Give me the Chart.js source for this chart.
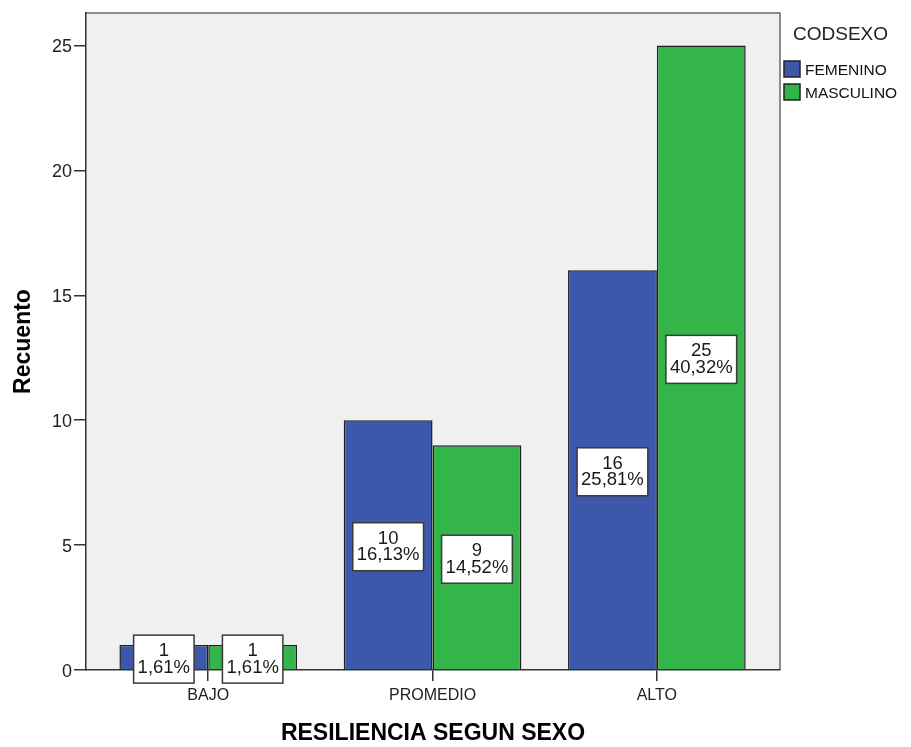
<!DOCTYPE html>
<html>
<head>
<meta charset="utf-8">
<script src="https://cdn.jsdelivr.net/npm/chart.js@4.4.0/dist/chart.umd.min.js"></script>
<style>
  html, body { margin: 0; padding: 0; background: #ffffff; }
  #wrap { width: 911px; height: 747px; }
</style>
</head>
<body>
<div id="wrap"><canvas id="c" width="911" height="747"></canvas></div>
<script>
// Counts of resilience level by sex
const categories = ['BAJO', 'PROMEDIO', 'ALTO'];
const femenino = [1, 10, 16];
const masculino = [1, 9, 25];
const seriesNames = ['FEMENINO', 'MASCULINO'];
const seriesColors = ['#3d58aa', '#33b54a'];
const legendTitle = 'CODSEXO';
const xTitle = 'RESILIENCIA SEGUN SEXO';
const yTitle = 'Recuento';

const FONT = "'Liberation Sans', Arial, sans-serif";
const total = femenino.concat(masculino).reduce((a, b) => a + b, 0);

function pctText(v) {
  return (v / total * 100).toFixed(2).replace('.', ',') + '%';
}

// Grey plot background and frame
const plotFrame = {
  id: 'plotFrame',
  beforeDraw(chart) {
    const { ctx, chartArea: a } = chart;
    ctx.save();
    ctx.fillStyle = '#f0f0f0';
    ctx.fillRect(a.left, a.top, a.right - a.left, a.bottom - a.top);
    ctx.strokeStyle = '#6a6a6a';
    ctx.lineWidth = 1.5;
    ctx.beginPath();
    ctx.moveTo(a.left, a.top);
    ctx.lineTo(a.right, a.top);
    ctx.lineTo(a.right, a.bottom);
    ctx.stroke();
    ctx.restore();
  }
};

// Boxed count / percentage labels centred in each bar
const barLabels = {
  id: 'barLabels',
  afterDatasetsDraw(chart) {
    const { ctx } = chart;
    ctx.save();
    ctx.font = '18.5px ' + FONT;
    ctx.textAlign = 'center';
    ctx.textBaseline = 'middle';
    chart.data.datasets.forEach((ds, di) => {
      const meta = chart.getDatasetMeta(di);
      meta.data.forEach((bar, i) => {
        const v = ds.data[i].y;
        const l1 = String(v);
        const l2 = pctText(v);
        const w = Math.max(ctx.measureText(l1).width, ctx.measureText(l2).width) + 8;
        const h = 48;
        const cx = bar.x;
        const cy = (bar.y + bar.base) / 2 + 2;
        ctx.fillStyle = '#ffffff';
        ctx.fillRect(cx - w / 2, cy - h / 2, w, h);
        ctx.strokeStyle = '#3a3a3a';
        ctx.lineWidth = 1.5;
        ctx.strokeRect(cx - w / 2, cy - h / 2, w, h);
        ctx.fillStyle = '#1a1a1a';
        ctx.fillText(l1, cx, cy - 8);
        ctx.fillText(l2, cx, cy + 8.5);
      });
    });
    ctx.restore();
  }
};

// Legend at the right of the plot
const sideLegend = {
  id: 'sideLegend',
  afterDraw(chart) {
    const { ctx, chartArea: a } = chart;
    ctx.save();
    ctx.textAlign = 'left';
    ctx.textBaseline = 'middle';
    ctx.fillStyle = '#222222';
    ctx.font = '19px ' + FONT;
    ctx.fillText(legendTitle, a.right + 13, 35);
    ctx.font = '15.5px ' + FONT;
    chart.data.datasets.forEach((ds, i) => {
      const y = 61 + i * 23;
      ctx.fillStyle = ds.backgroundColor;
      ctx.fillRect(a.right + 4, y, 16, 16);
      ctx.strokeStyle = '#222222';
      ctx.lineWidth = 1.5;
      ctx.strokeRect(a.right + 4, y, 16, 16);
      ctx.fillStyle = '#111111';
      ctx.fillText(ds.label, a.right + 25, y + 9.5);
    });
    ctx.restore();
  }
};

const series = [femenino, masculino];

new Chart(document.getElementById('c'), {
  type: 'bar',
  data: {
    datasets: series.map((vals, si) => ({
      label: seriesNames[si],
      data: vals.map((v, i) => ({ x: i, y: v })),
      backgroundColor: seriesColors[si],
      borderColor: '#1e1e1e',
      borderWidth: 1.5,
      categoryPercentage: 0.792,
      barPercentage: 1.0
    }))
  },
  options: {
    responsive: false,
    animation: false,
    devicePixelRatio: 1,
    layout: { padding: { left: 0, top: 13, right: 131, bottom: 0 } },
    plugins: {
      legend: { display: false },
      tooltip: { enabled: false }
    },
    scales: {
      x: {
        type: 'linear',
        min: -0.545,
        max: 2.549,
        offset: false,
        afterBuildTicks: s => { s.ticks = categories.map((c, i) => ({ value: i })); },
        afterFit: s => { s.height = 77; },
        border: { display: true, color: '#333333', width: 1.5 },
        grid: { offset: false, drawOnChartArea: false, drawTicks: true, tickLength: 11, color: '#333333', lineWidth: 1.5 },
        ticks: {
          autoSkip: false, maxRotation: 0, padding: 5,
          color: '#222222', font: { family: FONT, size: 16 },
          callback: v => categories[v] !== undefined ? categories[v] : ''
        },
        title: {
          display: true, text: xTitle, color: '#000000',
          font: { family: FONT, size: 23, weight: 'bold' },
          padding: { top: 0, bottom: 0 }
        }
      },
      y: {
        min: 0,
        max: 26.3,
        afterFit: s => { s.width = 86; },
        border: { display: true, color: '#333333', width: 1.5 },
        grid: { drawOnChartArea: false, drawTicks: true, tickLength: 12, color: '#333333', lineWidth: 1.5 },
        ticks: {
          stepSize: 5, includeBounds: false, padding: 2, labelOffset: 2,
          color: '#222222', font: { family: FONT, size: 18 }
        },
        title: {
          display: true, text: yTitle, color: '#000000',
          font: { family: FONT, size: 23, weight: 'bold' },
          padding: { top: 10, bottom: 0 }
        }
      }
    }
  },
  plugins: [plotFrame, barLabels, sideLegend]
});
</script>
</body>
</html>
